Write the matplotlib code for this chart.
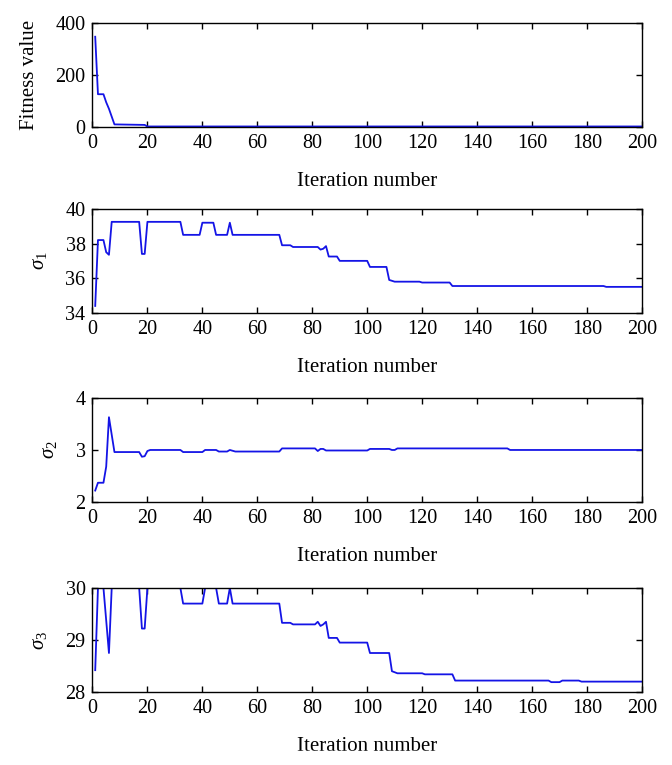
import matplotlib
matplotlib.use("Agg")
import matplotlib.pyplot as plt
from matplotlib.patches import Rectangle

plt.rcParams['font.family'] = ['Liberation Serif', 'DejaVu Serif']
plt.rcParams['mathtext.fontset'] = 'custom'
plt.rcParams['mathtext.rm'] = 'Liberation Serif'
plt.rcParams['mathtext.it'] = 'Liberation Serif:italic'

# Fitness value vs iteration (breakpoints)
fit_it = [1, 2, 4, 5, 6, 7, 8, 19, 20, 200]
fit_val = [347, 126, 126, 95, 70, 40, 10, 8, 2, 2]

# sigma_1
s1_it = [1, 2, 4, 5, 6, 7, 17, 18, 19, 20, 32, 33, 39, 40, 44, 45, 49, 50, 51,
         68, 69, 72, 73, 82, 83, 84, 85, 86, 89, 90, 100, 101, 107, 108, 110,
         119, 120, 130, 131, 186, 187, 200]
s1_val = [34.4, 38.2, 38.2, 37.5, 37.35, 39.25, 39.25, 37.4, 37.4, 39.25, 39.25,
          38.5, 38.5, 39.2, 39.2, 38.5, 38.5, 39.2, 38.5, 38.5, 37.9, 37.9, 37.8,
          37.8, 37.65, 37.7, 37.85, 37.25, 37.25, 37.0, 37.0, 36.65, 36.65, 35.9,
          35.8, 35.8, 35.75, 35.75, 35.55, 35.55, 35.5, 35.5]

# sigma_2
s2_it = [1, 2, 4, 5, 6, 8, 17, 18, 19, 20, 21, 32, 33, 40, 41, 45, 46, 49, 50,
         52, 68, 69, 81, 82, 83, 84, 85, 100, 101, 108, 109, 110, 111, 151, 152, 200]
s2_val = [2.22, 2.37, 2.37, 2.68, 3.63, 2.96, 2.96, 2.87, 2.88, 2.98, 3.0, 3.0,
          2.96, 2.96, 3.0, 3.0, 2.97, 2.97, 3.0, 2.97, 2.97, 3.03, 3.03, 2.98,
          3.02, 3.02, 2.99, 2.99, 3.02, 3.02, 3.0, 3.0, 3.03, 3.03, 3.0, 3.0]

# sigma_3
s3_it = [1, 2, 4, 6, 7, 17, 18, 19, 20, 32, 33, 40, 41, 45, 46, 49, 50, 51, 68,
         69, 72, 73, 81, 82, 83, 84, 85, 86, 89, 90, 100, 101, 108, 109, 111,
         120, 121, 131, 132, 166, 167, 170, 171, 177, 178, 200]
s3_val = [28.42, 30, 30, 28.75, 30, 30, 29.22, 29.22, 30, 30, 29.7, 29.7, 30, 30,
          29.7, 29.7, 30, 29.7, 29.7, 29.33, 29.33, 29.3, 29.3, 29.35, 29.27,
          29.3, 29.35, 29.04, 29.04, 28.95, 28.95, 28.75, 28.75, 28.4, 28.36,
          28.36, 28.34, 28.34, 28.22, 28.22, 28.19, 28.19, 28.22, 28.22, 28.2, 28.2]

x_ticks = list(range(0, 201, 20))

panels = [
    (fit_it, fit_val, (0, 400), [0, 200, 400], 'Fitness value'),
    (s1_it, s1_val, (34, 40), [34, 36, 38, 40], r'$\sigma_{\rm 1}$'),
    (s2_it, s2_val, (2, 4), [2, 3, 4], r'$\sigma_{\rm 2}$'),
    (s3_it, s3_val, (28, 30), [28, 29, 30], r'$\sigma_{\rm 3}$'),
]
bottoms = [0.834, 0.591, 0.3438, 0.0954]

fig = plt.figure(figsize=(6.72, 7.65), dpi=100)

for (xs, ys, ylim, yt, ylab), b in zip(panels, bottoms):
    ax = fig.add_axes([0.1376, b, 0.8177, 0.136])
    ax.plot(xs, ys, color='#1414e6', linewidth=1.3)
    ax.set_xlim(0, 200)
    ax.set_ylim(*ylim)
    ax.set_xticks(x_ticks)
    ax.set_yticks(yt)
    ax.tick_params(direction='in', top=True, right=True, length=4.5, width=1,
                   labelsize=14.5, pad=5)
    for s in ax.spines.values():
        s.set_linewidth(1)
    ax.set_xlabel('Iteration number', fontsize=15, labelpad=14)
    ax.set_ylabel(ylab, fontsize=15, labelpad=12)

# the bottom label is cut off in the original figure
fig.patches.append(Rectangle((0, 0), 1, 0.0185, transform=fig.transFigure,
                             color='white', zorder=10))

fig.savefig('out.png', dpi=100)
